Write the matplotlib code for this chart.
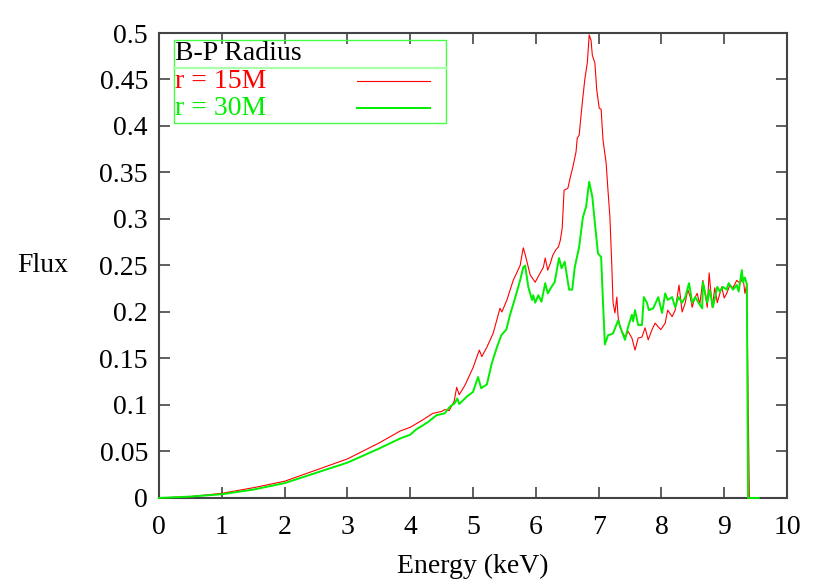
import numpy as np
import matplotlib
matplotlib.use('Agg')
import matplotlib.pyplot as plt

plt.rcParams['font.family'] = ['Liberation Serif', 'DejaVu Serif']

# r = 15M (red)
energy_15 = [0.0, 0.5, 1.0, 1.5, 2.0, 2.5, 3.0, 3.5, 3.84, 4.0, 4.2, 4.36, 4.5, 4.55, 4.62,
             4.7, 4.74, 4.78, 4.87, 5.0, 5.1, 5.14, 5.22, 5.32, 5.43, 5.46, 5.54, 5.64, 5.75,
             5.8, 5.83, 5.91, 5.99, 6.07, 6.12, 6.15, 6.19, 6.23, 6.27, 6.32, 6.36, 6.39, 6.42,
             6.45, 6.51, 6.55, 6.59, 6.64, 6.66, 6.69, 6.74, 6.78, 6.82, 6.85, 6.88, 6.9, 6.94,
             6.97, 7.01, 7.04, 7.07, 7.12, 7.15, 7.18, 7.21, 7.23, 7.26, 7.29, 7.31, 7.34, 7.38,
             7.42, 7.47, 7.53, 7.58, 7.63, 7.69, 7.74, 7.79, 7.85, 7.9, 7.95, 7.99, 8.06, 8.1,
             8.17, 8.22, 8.28, 8.33, 8.38, 8.42, 8.46, 8.49, 8.53, 8.57, 8.61, 8.66, 8.73, 8.76,
             8.81, 8.85, 8.89, 8.96, 9.0, 9.04, 9.09, 9.14, 9.2, 9.25, 9.3, 9.33, 9.36, 9.38,
             9.4, 9.55]
flux_15 = [0.0, 0.0015, 0.005, 0.011, 0.018, 0.03, 0.042, 0.059, 0.072, 0.076, 0.084, 0.091,
           0.093, 0.095, 0.094, 0.104, 0.119, 0.111, 0.121, 0.14, 0.159, 0.152, 0.162, 0.177,
           0.204, 0.2, 0.213, 0.234, 0.25, 0.269, 0.262, 0.24, 0.232, 0.242, 0.248, 0.258, 0.245,
           0.252, 0.261, 0.267, 0.27, 0.277, 0.29, 0.331, 0.333, 0.345, 0.356, 0.372, 0.387,
           0.39, 0.425, 0.45, 0.468, 0.498, 0.492, 0.476, 0.468, 0.439, 0.419, 0.418, 0.385,
           0.36, 0.33, 0.302, 0.25, 0.21, 0.199, 0.216, 0.195, 0.184, 0.178, 0.173, 0.179,
           0.172, 0.159, 0.172, 0.173, 0.183, 0.17, 0.181, 0.188, 0.184, 0.181, 0.188, 0.202,
           0.195, 0.202, 0.229, 0.2, 0.21, 0.224, 0.216, 0.205, 0.215, 0.22, 0.208, 0.234,
           0.205, 0.242, 0.205, 0.226, 0.21, 0.227, 0.215, 0.22, 0.229, 0.226, 0.234, 0.231,
           0.237, 0.22, 0.23, 0.11, 0.0, 0.0]

# r = 30M (green)
energy_30 = [0.0, 0.5, 1.0, 1.5, 2.0, 2.5, 3.0, 3.5, 3.84, 4.0, 4.1, 4.2, 4.29, 4.42, 4.55,
             4.63, 4.71, 4.75, 4.78, 4.9, 5.0, 5.08, 5.13, 5.22, 5.3, 5.38, 5.45, 5.53, 5.59,
             5.67, 5.75, 5.8, 5.83, 5.88, 5.94, 5.96, 5.99, 6.04, 6.09, 6.15, 6.19, 6.25, 6.3,
             6.37, 6.41, 6.46, 6.53, 6.58, 6.62, 6.69, 6.75, 6.8, 6.85, 6.9, 6.94, 6.99, 7.04,
             7.07, 7.1, 7.15, 7.2, 7.23, 7.31, 7.37, 7.42, 7.47, 7.53, 7.55, 7.58, 7.63, 7.69,
             7.72, 7.77, 7.8, 7.87, 7.95, 8.01, 8.06, 8.1, 8.17, 8.22, 8.27, 8.33, 8.38, 8.44,
             8.49, 8.54, 8.59, 8.65, 8.66, 8.73, 8.77, 8.82, 8.89, 8.93, 8.98, 9.04, 9.07, 9.14,
             9.2, 9.23, 9.28, 9.3, 9.33, 9.36, 9.38, 9.55]
flux_30 = [0.0, 0.0015, 0.004, 0.009, 0.016, 0.027, 0.038, 0.053, 0.064, 0.068, 0.074, 0.078,
           0.082, 0.089, 0.091, 0.098, 0.102, 0.107, 0.101, 0.109, 0.114, 0.13, 0.118, 0.122,
           0.145, 0.162, 0.175, 0.181, 0.197, 0.215, 0.234, 0.248, 0.25, 0.227, 0.213, 0.218,
           0.21, 0.218, 0.211, 0.231, 0.22, 0.227, 0.232, 0.258, 0.247, 0.254, 0.224, 0.224,
           0.248, 0.27, 0.302, 0.313, 0.34, 0.324, 0.296, 0.263, 0.259, 0.21, 0.165, 0.175,
           0.176, 0.177, 0.191, 0.179, 0.17, 0.184, 0.197, 0.19, 0.202, 0.186, 0.186, 0.216,
           0.21, 0.202, 0.204, 0.216, 0.199, 0.22, 0.213, 0.216, 0.205, 0.216, 0.21, 0.216,
           0.231, 0.21, 0.216, 0.21, 0.204, 0.232, 0.21, 0.224, 0.205, 0.227, 0.222, 0.227,
           0.224, 0.231, 0.224, 0.229, 0.222, 0.245, 0.232, 0.237, 0.23, 0.0, 0.0]

x_ticks = list(range(0, 11))
y_ticks = [0, 0.05, 0.1, 0.15, 0.2, 0.25, 0.3, 0.35, 0.4, 0.45, 0.5]
y_labels = ['0', '0.05', '0.1', '0.15', '0.2', '0.25', '0.3', '0.35', '0.4', '0.45', '0.5']

red = '#ff0000'
green = '#00ee00'
frame = '#444444'
fs = 20

fig = plt.figure(figsize=(8.3, 5.81), dpi=100)
ax = fig.add_axes([0.1916, 0.1429, 0.7566, 0.8003])

ax.plot(energy_15, flux_15, color=red, lw=0.8, zorder=3, clip_on=False)
ax.plot(energy_30, flux_30, color=green, lw=1.4, zorder=3, clip_on=False)

ax.set_xlim(0, 10)
ax.set_ylim(0, 0.5)
ax.set_xticks(x_ticks)
ax.set_yticks(y_ticks)
ax.set_yticklabels(y_labels)
ax.tick_params(direction='in', length=8, width=1.2, color=frame, labelsize=fs,
               top=True, right=True)
ax.tick_params(axis='x', pad=12)
ax.tick_params(axis='y', pad=8)
for s in ax.spines.values():
    s.set_color(frame)
    s.set_linewidth(1.5)

ax.set_xlabel('Energy (keV)', fontsize=fs, labelpad=10)
fig.text(0.052, 0.543, 'Flux', fontsize=fs, ha='center', va='center')

# legend box drawn the gnuplot way: title row, separator, entries
tr = ax.transAxes
ax.add_patch(plt.Rectangle((0.024, 0.806), 0.433, 0.179, transform=tr, fill=False,
                           edgecolor='#44ff44', lw=1.0, zorder=5))
ax.plot([0.024, 0.457], [0.925, 0.925], transform=tr, color='#aaffaa', lw=1.6, zorder=5)
ax.text(0.026, 0.955, 'B-P Radius', transform=tr, fontsize=fs, va='center', ha='left')
ax.text(0.026, 0.896, 'r = 15M', transform=tr, fontsize=fs, va='center', ha='left', color=red)
ax.text(0.026, 0.838, 'r = 30M', transform=tr, fontsize=fs, va='center', ha='left', color=green)
ax.plot([0.315, 0.432], [0.896, 0.896], transform=tr, color=red, lw=0.8)
ax.plot([0.315, 0.432], [0.838, 0.838], transform=tr, color=green, lw=1.4)

fig.savefig('out.png', dpi=100)
